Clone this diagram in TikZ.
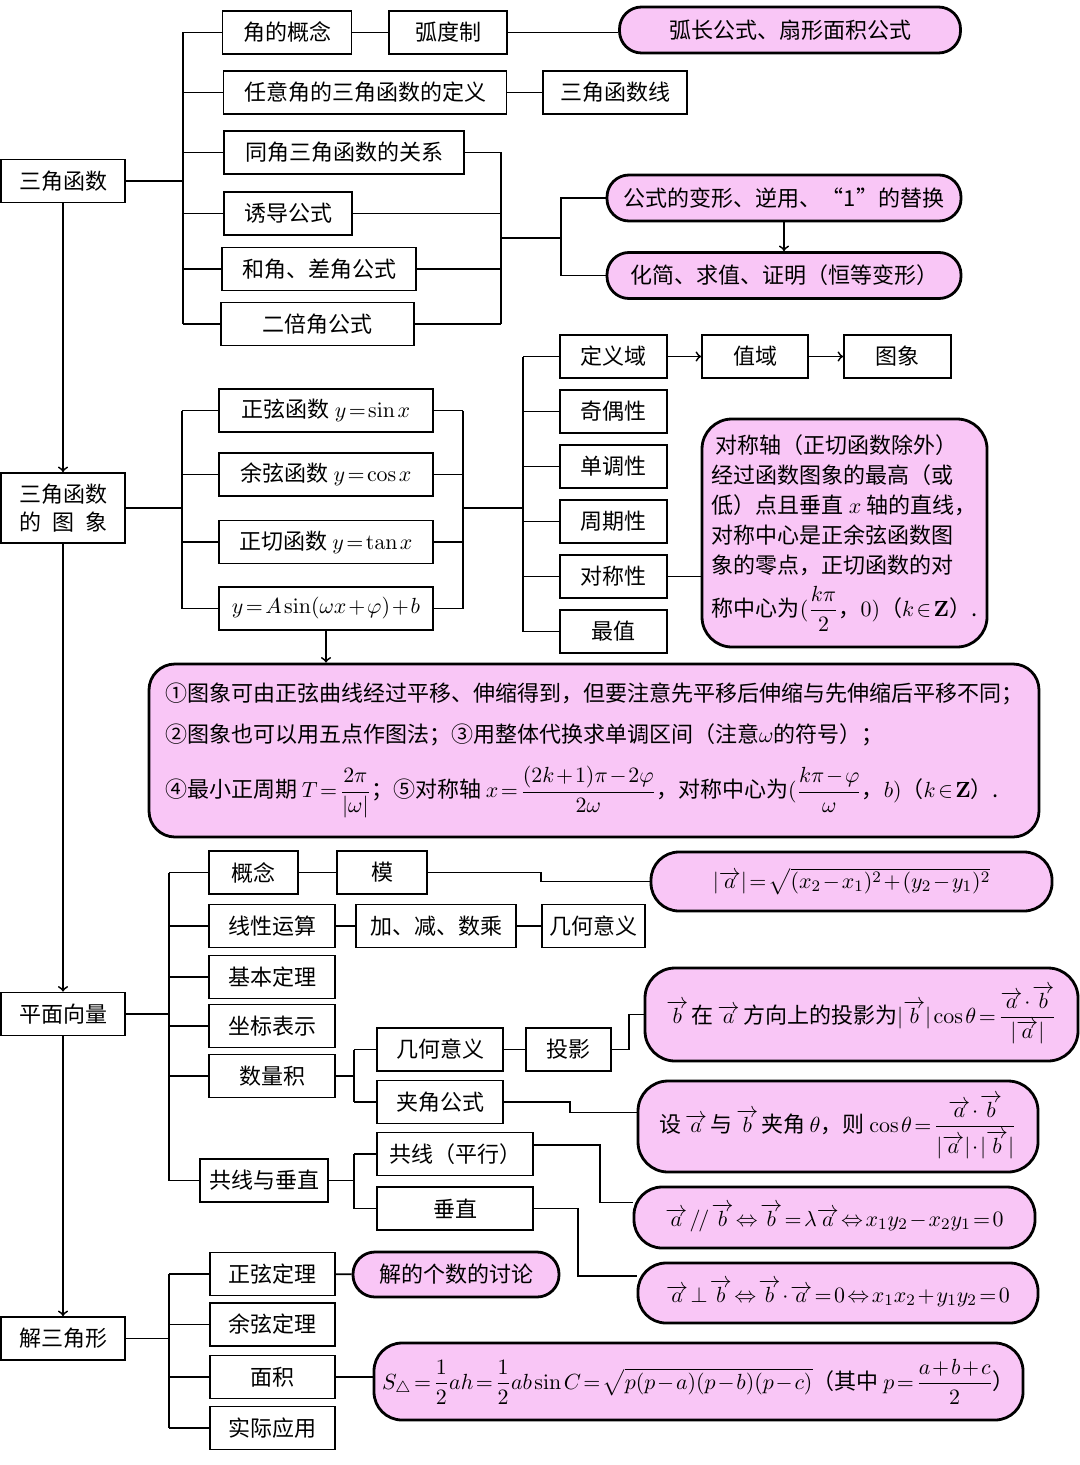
\documentclass[tikz,border=0pt]{standalone}
\usepackage{amsmath}
\usepackage[no-math]{fontspec}
\setmainfont{Noto Sans CJK SC}
\usetikzlibrary{calc}

\definecolor{notepink}{RGB}{249,198,246}
\thinmuskip=2mu
\medmuskip=1.5mu plus 1mu minus 1mu
\thickmuskip=2mu plus 1mu

\tikzset{
  boxw/.style={minimum width=#1*0.5pt},
  boxh/.style={minimum height=#1*0.5pt},
  box/.style={draw,line width=0.9pt,inner sep=0pt,boxh=43,
    font=\fontsize{11}{13}\selectfont},
  note/.style={box,fill=notepink,line width=1.4pt,rounded corners=10pt},
  link/.style={line width=0.9pt},
}

\begin{document}
\begin{tikzpicture}[x=0.5pt,y=-0.5pt]
   \fill[white] (0,0) rectangle (1080,1465);
   \useasboundingbox (0,0) rectangle (1080,1465);

   % trig functions
   \node[box,boxw=124] (trig) at (63,181) {三角函数};
   \node[box,boxw=129] (angle) at (287,32.5) {角的概念};
   \node[box,boxw=118] (radian) at (448,32.5) {弧度制};
   \node[note,boxw=341,boxh=46,rounded corners=11pt] (arcf) at (790,30) {弧长公式、扇形面积公式};
   \node[box,boxw=283] (anydef) at (365,92.5) {任意角的三角函数的定义};
   \node[box,boxw=144] (trigline) at (615,92.5) {三角函数线};
   \node[box,boxw=240] (same) at (344,152.5) {同角三角函数的关系};
   \node[box,boxw=128] (induce) at (288,213.5) {诱导公式};
   \node[box,boxw=194] (sumdiff) at (319,269) {和角、差角公式};
   \node[box,boxw=193] (double) at (317.5,324) {二倍角公式};
   \node[note,boxw=354,boxh=46,rounded corners=11pt] (transf) at (784,198) {公式的变形、逆用、“1”的替换};
   \node[note,boxw=354,boxh=46,rounded corners=11pt] (simpl) at (784,275.5) {化简、求值、证明（恒等变形）};

   \coordinate (b1) at (183,0);
   \coordinate (b2) at (501,0);
   \coordinate (b3) at (561,0);
   \draw[link] (trig.east) -- (trig.east -| b1);
   \draw[link] (b1 |- angle.west) -- (b1 |- double.west);
   \foreach \n in {angle,anydef,same,induce,sumdiff,double}
    \draw[link] (b1 |- \n.west) -- (\n.west);
   \draw[link] (angle) -- (radian);
   \draw[link] (radian.east) -- (arcf.west |- radian.east);
   \draw[link] (anydef) -- (trigline);
   \foreach \n in {same,induce,sumdiff,double}
    \draw[link] (\n.east) -- (\n.east -| b2);
   \draw[link] (b2 |- same.east) -- (b2 |- double.east);
   \coordinate (m1) at ($(b2 |- same.east)!0.5!(b2 |- double.east)$);
   \draw[link] (m1) -- (m1 -| b3);
   \draw[link] (transf.west) -- (transf.west -| b3) -- (simpl.west -| b3) -- (simpl.west);
   \draw[link,->] (transf) -- (simpl);

   % graphs
   \node[box,boxw=124,boxh=70,align=center,font=\fontsize{11}{14}\selectfont] (graph) at (63,508)
    {三角函数\\的\hspace{5.5pt}图\hspace{5.5pt}象};
   \draw[link,->] (trig) -- (graph);
   \node[box,boxw=214] (sinf) at (326,410.5) {正弦函数 $y=\sin x$};
   \node[box,boxw=214] (cosf) at (326,474.5) {余弦函数 $y=\cos x$};
   \node[box,boxw=214] (tanf) at (326,542) {正切函数 $y=\tan x$};
   \node[box,boxw=214] (asinf) at (326,608.5) {$y=A\sin(\omega x+\varphi)+b$};

   \coordinate (b4) at (182,0);
   \coordinate (b5) at (463,0);
   \coordinate (b6) at (523,0);
   \draw[link] (graph.east) -- (graph.east -| b4);
   \foreach \n in {sinf,cosf,tanf,asinf} {
    \draw[link] (b4 |- \n.west) -- (\n.west);
    \draw[link] (\n.east) -- (\n.east -| b5);
   }
   \draw[link] (b4 |- sinf.west) -- (b4 |- asinf.west);
   \draw[link] (b5 |- sinf.east) -- (b5 |- asinf.east);
   \draw[link] (b5 |- graph.east) -- (b6 |- graph.east);

   \foreach \n/\lbl/\yy in {domain/定义域/356.5,parity/奇偶性/411.5,monot/单调性/466.5,
     period/周期性/521.5,symm/对称性/576.5,extr/最值/631.5} {
    \node[box,boxw=107] (\n) at (613.5,\yy) {\lbl};
    \draw[link] (b6 |- \n.west) -- (\n.west);
   }
   \draw[link] (b6 |- domain.west) -- (b6 |- extr.west);
   \node[box,boxw=106] (range) at (755,356.5) {值域};
   \node[box,boxw=107] (image) at (897.5,356.5) {图象};
   \draw[link,->] (domain) -- (range);
   \draw[link,->] (range) -- (image);

   \node[note,boxw=285,boxh=228,rounded corners=15pt,align=left,
     font=\fontsize{11}{15}\selectfont] (symnote) at (844.5,533)
    {\hspace{2pt}对称轴（正切函数除外）\\
     经过函数图象的最高（或\\
     低）点且垂直 $x$ 轴的直线，\\
     对称中心是正余弦函数图\\
     象的零点，正切函数的对\\[4pt]
     称中心为$(\dfrac{k\pi}{2}$，$0)$（$k\in\mathbf{Z}$）.};
   \draw[link] (symm) -- (symm -| symnote.west);

   \node[note,boxw=890,boxh=173,rounded corners=13pt,align=left,
     font=\fontsize{11}{20.5}\selectfont] (asinnote) at (594,750.5)
    {①图象可由正弦曲线经过平移、伸缩得到，但要注意先平移后伸缩与先伸缩后平移不同；\\
     ②图象也可以用五点作图法；③用整体代换求单调区间（注意$\omega$的符号）；\\[7pt]
     ④最小正周期 $T=\dfrac{2\pi}{|\omega|}$；⑤对称轴 $x=\dfrac{(2k+1)\pi-2\varphi}{2\omega}$，对称中心为$(\dfrac{k\pi-\varphi}{\omega}$，$b)$（$k\in\mathbf{Z}$）.};
   \draw[link,->] (asinf.south) -- (asinf.south |- asinnote.north);

   % plane vectors
   \node[box,boxw=124] (vec) at (63,1014) {平面向量};
   \draw[link,->] (graph) -- (vec);
   \node[box,boxw=89] (concept) at (253.5,872.5) {概念};
   \node[box,boxw=90] (modulus) at (382,872.5) {模};
   \node[note,boxw=401,boxh=59,rounded corners=14pt] (modf) at (851.5,881.5)
    {$|\overrightarrow{a}|=\sqrt{(x_2-x_1)^2+(y_2-y_1)^2}$};
   \node[box,boxw=126] (linear) at (272,926) {线性运算};
   \node[box,boxw=160] (ops) at (436,926) {加、减、数乘};
   \node[box,boxw=103] (geom1) at (593.5,926) {几何意义};
   \node[box,boxw=126] (basic) at (272,977) {基本定理};
   \node[box,boxw=126] (coord) at (272,1026) {坐标表示};
   \node[box,boxw=126] (dot) at (272,1076) {数量积};
   \node[box,boxw=126] (geom2) at (440,1049.5) {几何意义};
   \node[box,boxw=126] (angf) at (440,1102) {夹角公式};
   \node[box,boxw=85] (proj) at (568.5,1049.5) {投影};
   \node[note,boxw=433,boxh=93,rounded corners=15pt] (projf) at (861.5,1014.5)
    {$\overrightarrow{b}$\,在\,$\overrightarrow{a}$\,方向上的投影为$|\overrightarrow{b}|\cos\theta=\dfrac{\overrightarrow{a}\cdot\overrightarrow{b}}{|\overrightarrow{a}|}$};
   \node[note,boxw=400,boxh=91,rounded corners=15pt] (anglef) at (838,1126.5)
    {设\,$\overrightarrow{a}$\,与\,$\overrightarrow{b}$\,夹角\,$\theta$，则 $\cos\theta=\dfrac{\overrightarrow{a}\cdot\overrightarrow{b}}{|\overrightarrow{a}|\cdot|\overrightarrow{b}|}$};
   \node[box,boxw=128] (colperp) at (264,1180.5) {共线与垂直};
   \node[box,boxw=156] (colin) at (455,1154) {共线（平行）};
   \node[box,boxw=156] (perp) at (455,1208.5) {垂直};
   \node[note,boxw=401,boxh=61,rounded corners=14pt] (colinf) at (834.5,1217.5)
    {$\overrightarrow{a}\,/\!/\,\overrightarrow{b}\Leftrightarrow\overrightarrow{b}=\lambda\overrightarrow{a}\Leftrightarrow x_1y_2-x_2y_1=0$};
   \node[note,boxw=400,boxh=60,rounded corners=14pt] (perpf) at (838,1293)
    {$\overrightarrow{a}\perp\overrightarrow{b}\Leftrightarrow\overrightarrow{b}\cdot\overrightarrow{a}=0\Leftrightarrow x_1x_2+y_1y_2=0$};

   \coordinate (b7) at (169,0);
   \coordinate (b8) at (354,0);
   \draw[link] (vec.east) -- (vec.east -| b7);
   \foreach \n in {concept,linear,basic,coord,dot,colperp}
    \draw[link] (b7 |- \n.west) -- (\n.west);
   \draw[link] (b7 |- concept.west) -- (b7 |- colperp.west);
   \draw[link] (concept) -- (modulus);
   \draw[link] (modulus.east) -- ++(113,0) |- (modf.west);
   \draw[link] (linear) -- (ops);
   \draw[link] (ops) -- (geom1);
   \draw[link] (dot.east) -- (dot.east -| b8);
   \draw[link] (b8 |- geom2.west) -- (b8 |- angf.west);
   \draw[link] (b8 |- geom2.west) -- (geom2.west);
   \draw[link] (b8 |- angf.west) -- (angf.west);
   \draw[link] (geom2) -- (proj);
   \draw[link] (proj.east) -- ++(17,0) |- (projf.west);
   \draw[link] (angf.east) -- ++(66,0) |- ([yshift=7pt]anglef.west);
   \draw[link] (colperp.east) -- (colperp.east -| b8);
   \draw[link] (b8 |- colin.west) -- (b8 |- perp.west);
   \draw[link] (b8 |- colin.west) -- (colin.west);
   \draw[link] (b8 |- perp.west) -- (perp.west);
   \draw[link] ([yshift=4.5pt]colin.east) -- ++(66,0) |- ([yshift=7.5pt]colinf.west);
   \draw[link] (perp.east) -- ++(44,0) |- ([yshift=8.5pt]perpf.west);

   % triangles
   \node[box,boxw=124] (solve) at (63,1338.5) {解三角形};
   \draw[link,->] (vec) -- (solve);
   \node[box,boxw=125] (sinlaw) at (272.5,1274) {正弦定理};
   \node[box,boxw=125] (coslaw) at (272.5,1324.5) {余弦定理};
   \node[box,boxw=125] (area) at (272.5,1377) {面积};
   \node[box,boxw=125] (apply) at (272.5,1428) {实际应用};
   \node[note,boxw=206,boxh=45,rounded corners=11pt] (count) at (456,1274.5) {解的个数的讨论};
   \node[note,boxw=649,boxh=77,rounded corners=14pt] (areaf) at (698.5,1381.5)
    {$S_\triangle=\dfrac12ah=\dfrac12ab\sin C=\sqrt{p(p-a)(p-b)(p-c)}$（其中 $p=\dfrac{a+b+c}{2}$）};
   \draw[link] (solve.east) -- (solve.east -| b7);
   \foreach \n in {sinlaw,coslaw,area,apply}
    \draw[link] (b7 |- \n.west) -- (\n.west);
   \draw[link] (b7 |- sinlaw.west) -- (b7 |- apply.west);
   \draw[link] (sinlaw) -- (count);
   \draw[link] (area) -- (area -| areaf.west);
  \end{tikzpicture}
\end{document}
